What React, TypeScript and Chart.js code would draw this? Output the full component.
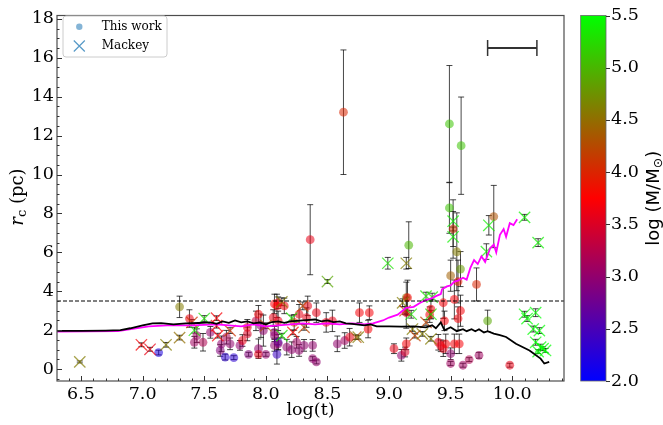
import React, { useEffect, useRef } from "react";
import { Chart, registerables } from "chart.js";

Chart.register(...registerables);

// Axis ranges and tick labels
const xRange = [6.305, 10.42];
const yRange = [-0.61, 18.17];
const massRange = [2.0, 5.5];
const xTickValues = [6.5, 7.0, 7.5, 8.0, 8.5, 9.0, 9.5, 10.0];
const yTickValues = [0, 2, 4, 6, 8, 10, 12, 14, 16, 18];
const massTickValues = [2.0, 2.5, 3.0, 3.5, 4.0, 4.5, 5.0, 5.5];

// Reference core-radius level (pc)
const coreRadiusLimit = 3.5;

// Typical age uncertainty: centre, half-width, height (pc)
const ageBar = [10.0, 0.2, 16.5];

// This work: [log(t), r_c (pc), error on r_c, log(M/Msun)]
const thisWork: number[][] = [
  [7.13, 0.85, 0.12, 2.2],
  [7.3, 3.2, 0.55, 4.6],
  [7.38, 2.6, 0.45, 3.6],
  [7.44, 1.72, 0.35, 3.1],
  [7.42, 1.38, 0.3, 3.1],
  [7.49, 1.38, 0.45, 3.2],
  [7.55, 1.89, 0.3, 3.0],
  [7.64, 1.3, 0.4, 3.0],
  [7.63, 0.96, 0.3, 2.9],
  [7.68, 1.64, 0.35, 3.2],
  [7.71, 1.3, 0.3, 3.0],
  [7.67, 0.62, 0.15, 2.3],
  [7.74, 0.59, 0.1, 2.3],
  [7.79, 1.22, 0.25, 3.0],
  [7.81, 1.47, 0.3, 3.6],
  [7.86, 0.76, 0.1, 2.9],
  [7.85, 1.81, 0.35, 3.5],
  [7.85, 2.15, 0.4, 3.6],
  [7.92, 2.48, 0.5, 3.3],
  [7.94, 2.82, 0.45, 3.7],
  [7.94, 1.05, 0.5, 3.0],
  [7.94, 0.76, 0.1, 3.6],
  [8.0, 0.76, 0.1, 3.0],
  [7.96, 2.23, 0.6, 3.0],
  [7.98, 1.98, 0.8, 3.0],
  [8.06, 2.65, 0.4, 3.6],
  [8.07, 3.35, 0.5, 3.7],
  [8.15, 3.25, 0.4, 3.7],
  [8.07, 1.89, 0.3, 3.0],
  [8.07, 1.72, 0.3, 3.0],
  [8.07, 1.22, 0.3, 3.0],
  [8.09, 0.76, 0.5, 2.4],
  [8.1, 1.38, 0.4, 2.4],
  [8.1, 1.3, 0.3, 3.0],
  [8.09, 3.25, 0.6, 3.7],
  [8.1, 3.41, 0.3, 3.7],
  [8.1, 2.48, 0.5, 3.6],
  [8.17, 1.13, 0.4, 3.0],
  [8.21, 1.0, 0.4, 3.0],
  [8.25, 1.38, 0.3, 3.1],
  [8.27, 0.96, 0.3, 3.0],
  [8.23, 2.4, 0.4, 4.0],
  [8.27, 2.82, 0.5, 3.6],
  [8.34, 3.25, 0.5, 3.6],
  [8.33, 2.65, 0.5, 3.6],
  [8.31, 1.22, 0.3, 3.0],
  [8.38, 1.22, 0.3, 3.0],
  [8.38, 0.54, 0.1, 3.0],
  [8.41, 0.37, 0.1, 3.0],
  [8.36, 6.65, 1.8, 3.6],
  [8.63, 13.2, 3.2, 4.0],
  [8.41, 2.9, 0.5, 3.6],
  [8.49, 2.4, 0.5, 3.6],
  [8.54, 2.48, 0.55, 3.6],
  [8.58, 1.3, 0.4, 3.0],
  [8.64, 1.47, 0.4, 3.1],
  [8.68, 1.64, 0.45, 3.6],
  [8.76, 2.9, 0.5, 3.7],
  [8.84, 2.9, 0.35, 3.7],
  [8.83, 2.06, 0.45, 3.7],
  [9.04, 1.05, 0.25, 3.6],
  [9.1, 0.71, 0.3, 3.0],
  [9.13, 0.88, 0.25, 3.5],
  [9.14, 1.3, 0.3, 3.7],
  [9.14, 3.67, 0.8, 4.6],
  [9.15, 3.67, 0.9, 3.7],
  [9.14, 2.9, 0.8, 3.6],
  [9.16, 6.37, 1.2, 5.0],
  [9.34, 3.08, 0.5, 3.7],
  [9.33, 2.8, 0.4, 3.7],
  [9.4, 1.38, 0.4, 3.6],
  [9.42, 1.2, 0.3, 3.6],
  [9.44, 1.05, 0.4, 3.6],
  [9.46, 1.3, 0.5, 3.7],
  [9.44, 3.41, 0.8, 3.7],
  [9.45, 2.48, 0.5, 3.7],
  [9.5, 0.79, 0.3, 3.0],
  [9.5, 0.29, 0.1, 3.1],
  [9.53, 1.3, 0.5, 3.7],
  [9.57, 1.3, 0.5, 3.7],
  [9.6, 0.2, 0.1, 3.1],
  [9.65, 0.49, 0.1, 3.2],
  [9.73, 0.71, 0.15, 3.1],
  [9.53, 3.58, 1.0, 3.7],
  [9.58, 3.0, 0.8, 3.7],
  [9.56, 2.6, 0.6, 3.7],
  [9.71, 4.35, 0.85, 4.0],
  [9.8, 2.48, 0.55, 4.9],
  [9.98, 0.2, 0.1, 3.6],
  [9.49, 12.6, 3.0, 5.1],
  [9.585, 11.48, 2.5, 5.1],
  [9.49, 8.28, 1.3, 5.1],
  [9.52, 7.2, 1.5, 4.1],
  [9.55, 6.03, 2.0, 4.6],
  [9.58, 5.14, 0.9, 4.8],
  [9.5, 4.8, 0.8, 4.4],
  [9.56, 4.5, 1.1, 3.9],
  [9.85, 7.84, 1.6, 4.3],
];

// Mackey: [log(t), r_c (pc), error on r_c, log(M/Msun)]
const mackey: number[][] = [
  [6.49, 0.37, 0.05, 4.6],
  [6.99, 1.25, 0.1, 3.7],
  [7.06, 1.02, 0.1, 3.6],
  [7.19, 1.25, 0.12, 4.6],
  [7.3, 1.62, 0.12, 4.5],
  [7.4, 2.4, 0.15, 4.1],
  [7.42, 2.0, 0.15, 5.3],
  [7.5, 2.6, 0.15, 5.3],
  [7.6, 2.62, 0.12, 3.7],
  [7.6, 2.23, 0.12, 3.7],
  [7.61, 1.72, 0.12, 3.7],
  [7.71, 1.98, 0.15, 4.1],
  [8.0, 2.23, 0.15, 4.3],
  [8.13, 3.46, 0.2, 4.6],
  [8.13, 1.72, 0.12, 5.3],
  [8.21, 2.62, 0.15, 5.3],
  [8.22, 1.89, 0.12, 3.8],
  [8.3, 3.25, 0.2, 4.2],
  [8.31, 2.15, 0.15, 4.2],
  [8.5, 4.5, 0.1, 4.9],
  [8.73, 1.64, 0.12, 4.3],
  [8.75, 1.64, 0.1, 4.6],
  [8.99, 5.44, 0.3, 5.3],
  [9.11, 3.41, 0.2, 4.6],
  [9.14, 5.44, 0.3, 4.6],
  [9.13, 3.0, 0.2, 4.1],
  [9.18, 2.82, 0.2, 5.3],
  [9.19, 2.06, 0.12, 4.6],
  [9.21, 1.72, 0.12, 4.2],
  [9.27, 1.81, 0.12, 4.6],
  [9.34, 1.56, 0.12, 4.6],
  [9.3, 2.4, 0.15, 4.2],
  [9.34, 2.82, 0.2, 5.3],
  [9.3, 3.75, 0.2, 5.3],
  [9.35, 3.7, 0.2, 5.3],
  [9.52, 7.6, 0.5, 5.4],
  [9.52, 6.8, 0.5, 5.4],
  [9.81, 7.39, 0.5, 5.4],
  [9.79, 6.04, 0.4, 5.4],
  [10.1, 7.8, 0.15, 5.4],
  [10.21, 6.5, 0.2, 5.4],
  [10.1, 2.82, 0.15, 5.5],
  [10.19, 2.9, 0.2, 5.5],
  [10.12, 2.6, 0.15, 5.5],
  [10.17, 2.06, 0.15, 5.5],
  [10.22, 1.98, 0.15, 5.5],
  [10.19, 1.38, 0.15, 5.5],
  [10.23, 1.13, 0.15, 5.5],
  [10.25, 1.05, 0.1, 5.5],
  [10.27, 0.96, 0.1, 5.5],
  [10.21, 0.9, 0.1, 5.5],
];

// Model track (black): [log(t), r_c]
const modelTrackA: number[][] = [
  [6.3, 1.97], [6.5, 1.97], [6.7, 1.98], [6.82, 2.0], [6.9, 2.1], [7.0, 2.25],
  [7.08, 2.35], [7.15, 2.36], [7.25, 2.3], [7.35, 2.35], [7.45, 2.37], [7.55, 2.4],
  [7.6, 2.33], [7.65, 2.45], [7.7, 2.38], [7.75, 2.5], [7.8, 2.4], [7.85, 2.45],
  [7.9, 2.35], [7.95, 2.4], [8.0, 2.3], [8.05, 2.42], [8.1, 2.45], [8.15, 2.38],
  [8.2, 2.45], [8.3, 2.5], [8.4, 2.55], [8.45, 2.45], [8.5, 2.5], [8.55, 2.42],
  [8.6, 2.45], [8.65, 2.35], [8.7, 2.32], [8.8, 2.25], [8.85, 2.3], [8.9, 2.2],
  [9.0, 2.2], [9.1, 2.18], [9.2, 2.2], [9.3, 2.15], [9.35, 2.25], [9.38, 2.1],
  [9.42, 2.4], [9.45, 2.0], [9.5, 2.15], [9.55, 1.95], [9.6, 2.05], [9.63, 1.95],
  [9.67, 2.05], [9.7, 1.95], [9.73, 2.05], [9.77, 1.88], [9.8, 1.95], [9.85, 1.82],
  [9.9, 1.75], [9.95, 1.65], [10.03, 1.3], [10.14, 0.96], [10.23, 0.54],
  [10.26, 0.29], [10.3, 0.37],
];

// Model track (magenta): [log(t), r_c]
const modelTrackB: number[][] = [
  [6.3, 1.93], [6.8, 1.95], [7.05, 2.2], [7.2, 2.25], [7.4, 2.25], [7.6, 2.3],
  [7.8, 2.2], [7.9, 2.3], [8.0, 2.2], [8.1, 2.25], [8.2, 2.3], [8.3, 2.35],
  [8.4, 2.3], [8.5, 2.35], [8.6, 2.3], [8.7, 2.35], [8.8, 2.3], [8.87, 2.35],
  [8.95, 2.5], [9.0, 2.65], [9.07, 2.8], [9.1, 2.95], [9.14, 3.15], [9.2, 3.2],
  [9.25, 3.4], [9.3, 3.55], [9.35, 3.65], [9.38, 3.75], [9.42, 3.85], [9.43, 4.1],
  [9.47, 4.25], [9.5, 4.3], [9.53, 4.5], [9.56, 4.55], [9.6, 4.7], [9.63, 4.6],
  [9.66, 5.2], [9.69, 5.6], [9.72, 5.4], [9.75, 5.8], [9.78, 5.5], [9.82, 6.2],
  [9.85, 6.4], [9.87, 6.0], [9.9, 6.9], [9.93, 7.2], [9.95, 6.8], [9.98, 7.5],
  [10.01, 7.4], [10.04, 7.7],
];

const SERIF = "'DejaVu Serif', serif";
const SANS = "'DejaVu Sans', sans-serif";

// blue -> red -> lime colour map over log(M/Msun)
function massColor(m: number, alpha: number): string {
  const t = Math.min(1, Math.max(0, (m - massRange[0]) / (massRange[1] - massRange[0])));
  let r: number, g: number, b: number;
  if (t < 0.5) {
    const s = t / 0.5;
    r = 255 * s; g = 0; b = 255 * (1 - s);
  } else {
    const s = (t - 0.5) / 0.5;
    r = 255 * (1 - s); g = 255 * s; b = 0;
  }
  return `rgba(${Math.round(r)},${Math.round(g)},${Math.round(b)},${alpha})`;
}

const decorPlugin = {
  id: "decor",
  beforeDatasetsDraw(chart: any) {
    const { ctx } = chart;
    const x = chart.scales.x;
    const y = chart.scales.y;
    const area = chart.chartArea;
    ctx.save();
    ctx.beginPath();
    ctx.rect(area.left, area.top, area.right - area.left, area.bottom - area.top);
    ctx.clip();
    // vertical error bars with caps
    ctx.strokeStyle = "rgba(0,0,0,0.72)";
    ctx.lineWidth = 1;
    const cap = 3;
    for (const rows of [thisWork, mackey]) {
      for (const [lt, r, e] of rows) {
        const px = x.getPixelForValue(lt);
        const pt = y.getPixelForValue(r + e);
        const pb = y.getPixelForValue(r - e);
        ctx.beginPath();
        ctx.moveTo(px, pt);
        ctx.lineTo(px, pb);
        ctx.moveTo(px - cap, pt);
        ctx.lineTo(px + cap, pt);
        ctx.moveTo(px - cap, pb);
        ctx.lineTo(px + cap, pb);
        ctx.stroke();
      }
    }
    ctx.restore();
  },
  afterDatasetsDraw(chart: any) {
    const { ctx } = chart;
    const x = chart.scales.x;
    const y = chart.scales.y;
    const cb = chart.scales.cb;
    const area = chart.chartArea;

    // dashed reference level
    ctx.save();
    const py = y.getPixelForValue(coreRadiusLimit);
    ctx.strokeStyle = "#000";
    ctx.lineWidth = 1;
    ctx.setLineDash([4, 2]);
    ctx.beginPath();
    ctx.moveTo(area.left, py);
    ctx.lineTo(area.right, py);
    ctx.stroke();
    ctx.setLineDash([]);

    // age uncertainty bar
    const [c, hw, lev] = ageBar;
    const bx0 = x.getPixelForValue(c - hw);
    const bx1 = x.getPixelForValue(c + hw);
    const by = y.getPixelForValue(lev);
    ctx.strokeStyle = "#333";
    ctx.lineWidth = 2;
    ctx.beginPath();
    ctx.moveTo(bx0, by);
    ctx.lineTo(bx1, by);
    ctx.stroke();
    ctx.lineWidth = 1.5;
    ctx.beginPath();
    ctx.moveTo(bx0, by - 8);
    ctx.lineTo(bx0, by + 8);
    ctx.moveTo(bx1, by - 8);
    ctx.lineTo(bx1, by + 8);
    ctx.stroke();

    // frame
    ctx.strokeStyle = "#4d4d4d";
    ctx.lineWidth = 1.2;
    ctx.strokeRect(area.left, area.top, area.right - area.left, area.bottom - area.top);

    // inward ticks
    ctx.strokeStyle = "#333";
    ctx.lineWidth = 1;
    ctx.beginPath();
    for (let k = 64; k <= 104; k++) {
      const v = k / 10;
      if (v < xRange[0] || v > xRange[1]) continue;
      const major = k % 5 === 0;
      const px = Math.round(x.getPixelForValue(v)) + 0.5;
      ctx.moveTo(px, area.bottom);
      ctx.lineTo(px, area.bottom - (major ? 5 : 2.5));
    }
    for (let k = -1; k <= 36; k++) {
      const v = k / 2;
      if (v < yRange[0] || v > yRange[1]) continue;
      const major = k % 4 === 0;
      const pyy = Math.round(y.getPixelForValue(v)) + 0.5;
      ctx.moveTo(area.left, pyy);
      ctx.lineTo(area.left + (major ? 5 : 2.5), pyy);
    }
    ctx.stroke();

    // axis titles
    ctx.fillStyle = "#000";
    ctx.font = `17.5px ${SERIF}`;
    ctx.textAlign = "center";
    ctx.textBaseline = "middle";
    ctx.fillText("log(t)", (area.left + area.right) / 2, 410);

    ctx.save();
    ctx.translate(17, 197);
    ctx.rotate(-Math.PI / 2);
    ctx.textAlign = "left";
    ctx.textBaseline = "alphabetic";
    const fR = `italic 18px ${SERIF}`;
    const fC = `13px ${SERIF}`;
    const fP = `18px ${SERIF}`;
    ctx.font = fR;
    const wR = ctx.measureText("r").width;
    ctx.font = fC;
    const wC = ctx.measureText("c").width;
    ctx.font = fP;
    const wP = ctx.measureText(" (pc)").width;
    let sx = -(wR + wC + wP) / 2;
    ctx.font = fR;
    ctx.fillText("r", sx, 6);
    sx += wR;
    ctx.font = fC;
    ctx.fillText("c", sx, 9);
    sx += wC;
    ctx.font = fP;
    ctx.fillText(" (pc)", sx, 6);
    ctx.restore();

    // colour bar
    const top = cb.getPixelForValue(massRange[1]);
    const bot = cb.getPixelForValue(massRange[0]);
    const barRight = cb.left;
    const barLeft = barRight - 25.3;
    const grad = ctx.createLinearGradient(0, bot, 0, top);
    grad.addColorStop(0, "rgb(0,0,255)");
    grad.addColorStop(0.5, "rgb(255,0,0)");
    grad.addColorStop(1, "rgb(0,255,0)");
    ctx.fillStyle = grad;
    ctx.fillRect(barLeft, top, barRight - barLeft, bot - top);
    ctx.strokeStyle = "#666";
    ctx.lineWidth = 0.8;
    ctx.strokeRect(barLeft, top, barRight - barLeft, bot - top);
    ctx.strokeStyle = "#333";
    ctx.lineWidth = 1;
    ctx.beginPath();
    for (const v of massTickValues) {
      const p = Math.round(cb.getPixelForValue(v)) + 0.5;
      ctx.moveTo(barRight, p);
      ctx.lineTo(barRight + 4, p);
    }
    ctx.stroke();

    // colour bar label: log (M/M_sun)
    ctx.save();
    ctx.translate(652, (top + bot) / 2);
    ctx.rotate(-Math.PI / 2);
    ctx.fillStyle = "#000";
    ctx.textBaseline = "alphabetic";
    ctx.textAlign = "left";
    const fMain = `18px ${SANS}`;
    const fSub = `12.5px ${SANS}`;
    ctx.font = fMain;
    const w1 = ctx.measureText("log (M/M").width;
    const w3 = ctx.measureText(")").width;
    ctx.font = fSub;
    const w2 = ctx.measureText("\u2299").width;
    let lx = -(w1 + w2 + w3) / 2;
    ctx.font = fMain;
    ctx.fillText("log (M/M", lx, 7);
    lx += w1;
    ctx.font = fSub;
    ctx.fillText("\u2299", lx, 10);
    lx += w2;
    ctx.font = fMain;
    ctx.fillText(")", lx, 7);
    ctx.restore();

    ctx.restore();
  },
  afterDraw(chart: any) {
    const { ctx } = chart;
    ctx.save();
    // legend box
    const lx = 63, ly = 16, lw = 104, lh = 41, rr = 3;
    ctx.beginPath();
    ctx.moveTo(lx + rr, ly);
    ctx.lineTo(lx + lw - rr, ly);
    ctx.quadraticCurveTo(lx + lw, ly, lx + lw, ly + rr);
    ctx.lineTo(lx + lw, ly + lh - rr);
    ctx.quadraticCurveTo(lx + lw, ly + lh, lx + lw - rr, ly + lh);
    ctx.lineTo(lx + rr, ly + lh);
    ctx.quadraticCurveTo(lx, ly + lh, lx, ly + lh - rr);
    ctx.lineTo(lx, ly + rr);
    ctx.quadraticCurveTo(lx, ly, lx + rr, ly);
    ctx.closePath();
    ctx.fillStyle = "rgba(255,255,255,0.8)";
    ctx.fill();
    ctx.strokeStyle = "#cccccc";
    ctx.lineWidth = 1;
    ctx.stroke();

    ctx.fillStyle = "rgba(31,119,180,0.55)";
    ctx.beginPath();
    ctx.arc(79.3, 26.7, 3.2, 0, Math.PI * 2);
    ctx.fill();
    ctx.strokeStyle = "rgba(31,119,180,0.75)";
    ctx.lineWidth = 1.2;
    ctx.beginPath();
    ctx.moveTo(73.8, 40.5);
    ctx.lineTo(84.8, 51.5);
    ctx.moveTo(84.8, 40.5);
    ctx.lineTo(73.8, 51.5);
    ctx.stroke();

    ctx.fillStyle = "#000";
    ctx.font = `12px ${SERIF}`;
    ctx.textAlign = "left";
    ctx.textBaseline = "middle";
    ctx.fillText("This work", 101.7, 26.7);
    ctx.fillText("Mackey", 101.7, 45.5);
    ctx.restore();
  },
};

export default function App() {
  const canvasRef = useRef<HTMLCanvasElement | null>(null);

  useEffect(() => {
    document.body.style.margin = "0";
    const canvas = canvasRef.current;
    if (!canvas) return;

    const toPts = (rows: number[][]) => rows.map((r) => ({ x: r[0], y: r[1] }));

    const chart = new Chart(canvas, {
      type: "scatter",
      data: {
        datasets: [
          {
            label: "track A",
            data: toPts(modelTrackA),
            showLine: true,
            borderColor: "#000000",
            borderWidth: 1.8,
            pointRadius: 0,
            order: 0,
          },
          {
            label: "track B",
            data: toPts(modelTrackB),
            showLine: true,
            borderColor: "#ff00ff",
            borderWidth: 1.8,
            pointRadius: 0,
            order: 1,
          },
          {
            label: "Mackey",
            data: toPts(mackey),
            pointStyle: "crossRot",
            pointRadius: 8,
            pointBorderWidth: 1.3,
            pointBorderColor: mackey.map((r) => massColor(r[3], 0.7)),
            pointBackgroundColor: "rgba(0,0,0,0)",
            order: 2,
          },
          {
            label: "This work",
            data: toPts(thisWork),
            pointStyle: "circle",
            pointRadius: 4.4,
            pointBorderWidth: 0,
            pointBackgroundColor: thisWork.map((r) => massColor(r[3], 0.55)),
            order: 3,
          },
        ],
      },
      options: {
        responsive: false,
        animation: false,
        devicePixelRatio: 1,
        layout: { padding: { top: 11, left: 0, right: 0, bottom: 0 } },
        plugins: { legend: { display: false }, tooltip: { enabled: false } },
        scales: {
          x: {
            type: "linear",
            min: xRange[0],
            max: xRange[1],
            grid: { display: false, drawTicks: false },
            border: { display: false },
            afterBuildTicks: (s: any) => {
              s.ticks = xTickValues.map((v) => ({ value: v }));
            },
            afterFit: (s: any) => {
              s.height = 44;
            },
            ticks: {
              padding: 3,
              color: "#000",
              font: { family: SERIF, size: 17.5 },
              maxRotation: 0,
              callback: (v: any) => Number(v).toFixed(1),
            },
          },
          y: {
            type: "linear",
            position: "left",
            min: yRange[0],
            max: yRange[1],
            grid: { display: false, drawTicks: false },
            border: { display: false },
            afterBuildTicks: (s: any) => {
              s.ticks = yTickValues.map((v) => ({ value: v }));
            },
            afterFit: (s: any) => {
              s.width = 57;
            },
            ticks: {
              padding: 3,
              color: "#000",
              font: { family: SERIF, size: 17.5 },
              callback: (v: any) => String(v),
            },
          },
          gap: {
            type: "linear",
            position: "right",
            weight: 0,
            min: 0,
            max: 1,
            grid: { display: false, drawTicks: false },
            border: { display: false },
            ticks: { display: false },
            afterFit: (s: any) => {
              s.width = 42;
            },
          },
          cb: {
            type: "linear",
            position: "right",
            weight: 1,
            min: massRange[0],
            max: massRange[1],
            grid: { display: false, drawTicks: false },
            border: { display: false },
            afterBuildTicks: (s: any) => {
              s.ticks = massTickValues.map((v) => ({ value: v }));
            },
            afterFit: (s: any) => {
              s.width = 57;
            },
            ticks: {
              padding: 5,
              color: "#000",
              font: { family: SERIF, size: 17.5 },
              callback: (v: any) => Number(v).toFixed(1),
            },
          },
        },
      },
      plugins: [decorPlugin],
    });

    return () => chart.destroy();
  }, []);

  return (
    <div style={{ width: 663, height: 425 }}>
      <canvas ref={canvasRef} width={663} height={425} />
    </div>
  );
}
